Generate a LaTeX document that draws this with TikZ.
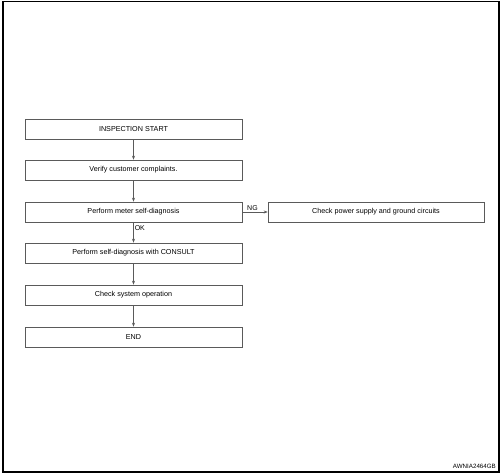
\documentclass[tikz,border=0pt]{standalone}
\usepackage{fontspec}
\setmainfont{Liberation Sans}
\usetikzlibrary{arrows.meta, positioning}
\definecolor{boxline}{RGB}{90,90,90}
\tikzset{
    % flow steps
    stepbox/.style={rectangle, draw=boxline, line width=0.6pt, fill=white,
                minimum width=217pt, minimum height=20pt, inner sep=0pt,
                align=center, font=\fontsize{7.2}{8.5}\selectfont},
    sidebox/.style={stepbox, minimum width=216pt},
    farrow/.style={-{Stealth[length=4pt, width=3pt]}, line width=0.5pt, boxline},
    flbl/.style={font=\fontsize{7}{8}\selectfont, text=black, inner sep=1pt},
}
\begin{document}
\begin{tikzpicture}[x=1pt, y=-1pt]
\useasboundingbox (0,0) rectangle (501,476);

% outer frame
\draw[line width=1.3pt] (3,1.5) rectangle (499,472);

% main column
\node[stepbox] (start) at (133.5,129) {INSPECTION START};
\node[stepbox] (verify) at (133.5,170) {Verify customer complaints.};
\node[stepbox] (meter) at (133.5,212) {Perform meter self-diagnosis};
\node[stepbox] (consult) at (133.5,253) {Perform self-diagnosis with CONSULT};
\node[stepbox] (sysop) at (133.5,295) {Check system operation};
\node[stepbox] (fin) at (133.5,337) {END};

% NG branch
\node[sidebox] (power) at (376,212) {Check power supply and ground circuits};

% Arrows
\draw[farrow] (start.south) -- (verify.north);
\draw[farrow] (verify.south) -- (meter.north);
\draw[farrow] (meter.south) -- node[flbl, right, pos=0.3] {OK} (consult.north);
\draw[farrow] (consult.south) -- (sysop.north);
\draw[farrow] (sysop.south) -- (fin.north);
\draw[farrow] (meter.east) -- node[flbl, above, pos=0.4] {NG} (power.west);

% figure code
\node[font=\fontsize{6.2}{7}\selectfont, anchor=east, inner sep=0pt] (figid) at (496,466) {AWNIA2464GB};
\end{tikzpicture}
\end{document}
